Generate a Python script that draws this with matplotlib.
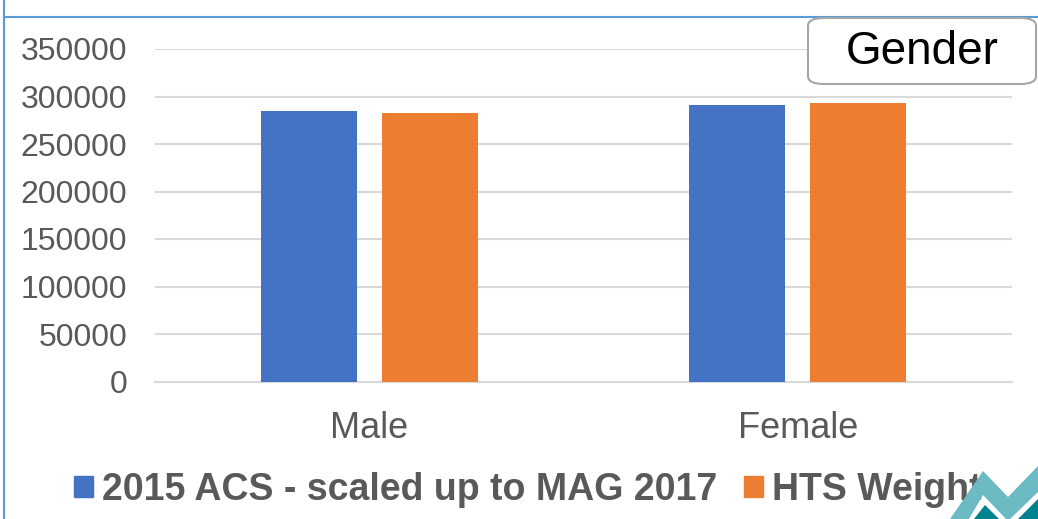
import numpy as np
import matplotlib
matplotlib.use('Agg')
import matplotlib.pyplot as plt
from matplotlib.patches import FancyBboxPatch, Polygon, Patch
from matplotlib.lines import Line2D

plt.rcParams['font.family'] = ['Liberation Sans', 'DejaVu Sans']

# Population by gender, two weighting sources
categories = ['Male', 'Female']
series_names = ['2015 ACS - scaled up to MAG 2017', 'HTS Weight']
acs_values = [284700, 290700]
hts_values = [282300, 293200]
y_ticks = [0, 50000, 100000, 150000, 200000, 250000, 300000, 350000]

blue = '#4472C4'
orange = '#ED7D31'
grey_text = '#595959'

W, H = 1038, 519
fig = plt.figure(figsize=(W / 100, H / 100), dpi=100)
ax = fig.add_axes([155 / W, 1 - 381.5 / H, (1012 - 155) / W, (381.5 - 49) / H])

x = np.arange(len(categories))
width = 0.224
offset = 0.141
ax.bar(x - offset, acs_values, width, color=blue, zorder=3)
ax.bar(x + offset, hts_values, width, color=orange, zorder=3)

ax.set_xlim(-0.5, len(categories) - 0.5)
ax.set_ylim(0, 350000)
ax.set_yticks(y_ticks)
ax.set_yticklabels([str(v) for v in y_ticks])
ax.set_xticks(x)
ax.set_xticklabels(categories)
ax.yaxis.grid(True, color='#d9d9d9', linewidth=1.5, zorder=0)
ax.tick_params(axis='y', length=0, labelsize=23, labelcolor=grey_text, pad=20)
ax.tick_params(axis='x', length=0, labelsize=26, labelcolor=grey_text, pad=21)
for side in ['top', 'right', 'left']:
    ax.spines[side].set_visible(False)
ax.spines['bottom'].set_color('#d9d9d9')
ax.spines['bottom'].set_linewidth(1.5)

# legend along the bottom
handles = [Patch(color=blue), Patch(color=orange)]
leg = fig.legend(handles, series_names, loc='center', bbox_to_anchor=(528 / W, 1 - 490 / H),
                 ncol=2, frameon=False, handlelength=0.5, handleheight=0.5,
                 handletextpad=0.25, columnspacing=0.7,
                 prop={'size': 27, 'weight': 'bold'})
for t in leg.get_texts():
    t.set_color(grey_text)

# slide frame lines
fig.add_artist(Line2D([4 / W, 4 / W], [0, 1], color='#5B9BD5', lw=1.5, transform=fig.transFigure))
fig.add_artist(Line2D([4 / W, 1], [1 - 17 / H, 1 - 17 / H], color='#5B9BD5', lw=1.5,
                      transform=fig.transFigure))

# title box
box = FancyBboxPatch((808 / W, 1 - 84 / H), (1036 - 808) / W, (84 - 18) / H,
                     boxstyle='round,pad=0,rounding_size=0.015', transform=fig.transFigure,
                     facecolor='white', edgecolor='#a6a6a6', linewidth=1.5, zorder=5)
fig.add_artist(box)
fig.text(922 / W, 1 - 52 / H, 'Gender', fontsize=33, color='black',
         ha='center', va='center', zorder=6)


# corner logo
def px(points):
    return [(px_x / W, 1 - px_y / H) for px_x, px_y in points]


light = Polygon(px([(950, 519), (983, 471), (1008, 497), (1038, 466), (1038, 492),
                    (1008, 521), (983, 495), (969, 519)]),
                closed=True, facecolor='#6BBAC4', edgecolor='none', transform=fig.transFigure, zorder=7)
dark1 = Polygon(px([(974, 519), (985, 505), (999, 519)]),
                closed=True, facecolor='#00838C', edgecolor='none', transform=fig.transFigure, zorder=7)
dark2 = Polygon(px([(1018, 519), (1038, 499), (1038, 519)]),
                closed=True, facecolor='#00838C', edgecolor='none', transform=fig.transFigure, zorder=7)
for p in (light, dark1, dark2):
    fig.add_artist(p)

fig.savefig('out.png', dpi=100, facecolor='white')
